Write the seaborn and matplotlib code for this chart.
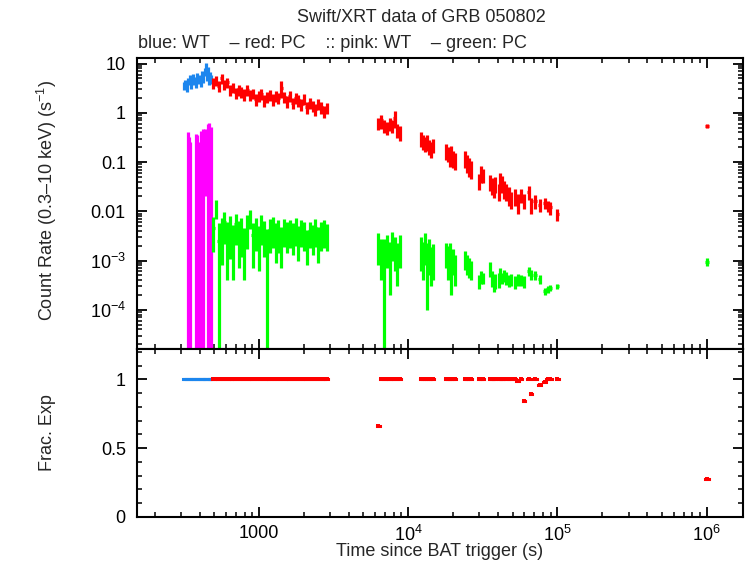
import numpy as np
import matplotlib
matplotlib.use("Agg")
import matplotlib.pyplot as plt
import matplotlib.ticker as mticker
import seaborn as sns

# --- WT mode bins (blue = source, pink = background) ---
wt_t = [312, 320, 328, 336, 344, 352, 360, 368, 376, 384, 392,
        400, 408, 416, 424, 432, 440, 448, 456, 464, 472, 479]
wt_dt = [4.5, 4.5, 4.5, 4.5, 4.5, 4.5, 4.5, 4.5, 4.5, 4.5, 4.5,
         4.5, 4.5, 4.5, 4.5, 4.5, 4.5, 4.5, 4.5, 4.5, 4.5, 4.5]
wt_rate = [3.6, 4.0, 3.3, 4.4, 4.9, 3.8, 5.2, 4.5, 3.9, 5.5, 4.7,
           5.0, 4.2, 6.0, 5.1, 6.8, 8.2, 5.6, 7.0, 4.6, 5.8, 4.9]
wt_err = [0.7, 0.7, 0.6, 0.8, 0.9, 0.7, 1.0, 0.9, 0.7, 1.0, 0.9,
          1.0, 0.8, 1.1, 1.0, 1.3, 2.2, 1.1, 1.4, 0.9, 1.1, 1.0]
wt_frac = [1, 1, 1, 1, 1, 1, 1, 1, 1, 1, 1,
           1, 1, 1, 1, 1, 1, 1, 1, 1, 1, 1]

pink_t = [332, 338, 345, 376, 384, 399, 408, 424, 434, 452, 462, 474]
pink_dt = [3, 3, 3, 4, 4, 4, 4, 4, 4, 4, 4, 4]
pink_rate = [0.20, 0.15, 0.12, 0.18, 0.16, 0.12, 0.20, 0.22, 0.25, 0.28, 0.32, 0.26]
pink_err = [0.21, 0.18, 0.14, 0.20, 0.19, 0.13, 0.22, 0.24, 0.23, 0.30, 0.30, 0.26]

# --- PC mode bins (red = source, green = background) ---
pc_t = [492, 514, 537, 561, 586, 612, 640, 668, 698, 730,
        762, 796, 832, 870, 909, 949, 992, 1037, 1083, 1132,
        1183, 1236, 1291, 1349, 1410, 1473, 1539, 1608, 1680, 1756,
        1835, 1917, 2003, 2093, 2187, 2286, 2388, 2495, 2607, 2724, 2846,
        6300, 6600, 6900, 7200, 7500, 7800, 8100, 8450, 8800,
        12100, 12500, 12900, 13300, 13700, 14100, 14600,
        17900, 18400, 18900, 19400, 19900, 20500,
        24000, 24800, 25600, 26300,
        29800, 30700, 31600,
        35300, 36300, 37300, 38300,
        40400, 41500, 42500, 43500,
        45500, 47000, 48500,
        52000, 54000,
        57000, 59500,
        64000, 66500,
        70500,
        76000,
        82000, 86000, 89500,
        100000,
        1000000]
pc_dt = [11, 11, 12, 12, 13, 13, 14, 15, 15, 16,
         16, 17, 18, 19, 20, 20, 21, 22, 23, 24,
         26, 27, 28, 29, 31, 32, 33, 35, 36, 38,
         40, 41, 43, 45, 47, 50, 51, 54, 56, 58, 61,
         150, 150, 150, 150, 150, 150, 150, 150, 150,
         200, 200, 200, 200, 200, 200, 200,
         250, 250, 250, 250, 250, 250,
         350, 350, 350, 350,
         450, 450, 450,
         500, 500, 500, 500,
         500, 500, 500, 500,
         700, 700, 700,
         900, 900,
         1200, 1200,
         1200, 1200,
         2000,
         2000,
         1800, 1800, 1800,
         2500,
         30000]
pc_rate = [4.0, 4.6, 3.5, 5.0, 3.8, 4.2, 2.9, 3.3, 2.6, 3.0,
           2.7, 2.4, 2.9, 2.3, 2.5, 1.9, 2.2, 2.4, 1.8, 2.1,
           2.3, 1.9, 2.2, 2.0, 3.2, 2.1, 1.7, 2.2, 1.6, 2.0,
           1.8, 1.5, 1.9, 1.3, 1.6, 1.4, 1.2, 1.5, 1.3, 1.1, 1.25,
           0.62, 0.70, 0.55, 0.50, 0.60, 0.55, 0.80, 0.45, 0.40,
           0.30, 0.27, 0.24, 0.26, 0.21, 0.19, 0.22,
           0.17, 0.15, 0.13, 0.16, 0.12, 0.11,
           0.12, 0.10, 0.085, 0.075,
           0.042, 0.060, 0.055,
           0.040, 0.034, 0.030, 0.037,
           0.026, 0.044, 0.038, 0.030,
           0.026, 0.022, 0.018,
           0.021, 0.016,
           0.022, 0.017,
           0.025, 0.014,
           0.016,
           0.0135,
           0.015, 0.013, 0.012,
           0.0088,
           0.55]
pc_err = [1.0, 1.1, 0.9, 1.2, 0.95, 1.0, 0.75, 0.8, 0.65, 0.75,
          0.7, 0.62, 0.75, 0.58, 0.62, 0.5, 0.56, 0.6, 0.48, 0.52,
          0.56, 0.5, 0.54, 0.5, 1.2, 0.52, 0.45, 0.54, 0.42, 0.5,
          0.46, 0.4, 0.47, 0.35, 0.41, 0.37, 0.33, 0.38, 0.34, 0.3, 0.32,
          0.18, 0.22, 0.16, 0.15, 0.17, 0.16, 0.3, 0.14, 0.13,
          0.1, 0.09, 0.08, 0.09, 0.07, 0.07, 0.07,
          0.06, 0.05, 0.05, 0.055, 0.045, 0.04,
          0.045, 0.04, 0.035, 0.03,
          0.015, 0.022, 0.018,
          0.014, 0.013, 0.011, 0.013,
          0.01, 0.016, 0.014, 0.012,
          0.01, 0.009, 0.007,
          0.008, 0.007,
          0.007, 0.006,
          0.008, 0.005,
          0.005,
          0.004,
          0.004, 0.0035, 0.0035,
          0.0025,
          0.05]
pc_frac = [1, 1, 1, 1, 1, 1, 1, 1, 1, 1,
           1, 1, 1, 1, 1, 1, 1, 1, 1, 1,
           1, 1, 1, 1, 1, 1, 1, 1, 1, 1,
           1, 1, 1, 1, 1, 1, 1, 1, 1, 1, 1,
           0.66, 1, 1, 1, 1, 1, 1, 1, 1,
           1, 1, 1, 1, 1, 1, 1,
           1, 1, 1, 1, 1, 1,
           1, 1, 1, 1,
           1, 1, 1,
           1, 1, 1, 1,
           1, 1, 1, 1,
           1, 1, 1,
           1, 0.985,
           1, 0.84,
           1, 0.89,
           1,
           0.956,
           0.98, 1, 1,
           1,
           0.277]
bg_rate = [0.0045, 0.012, 0.0025, 0.004, 0.006, 0.0032, 0.0045, 0.0028, 0.0055, 0.0035,
           0.0042, 0.0025, 0.005, 0.0075, 0.0033, 0.0045, 0.0028, 0.0052, 0.0038, 0.0018,
           0.0042, 0.0048, 0.0033, 0.004, 0.0028, 0.0045, 0.0038, 0.0042, 0.0035, 0.0046,
           0.003, 0.0043, 0.0038, 0.0025, 0.004, 0.0033, 0.0045, 0.0028, 0.0038, 0.0042, 0.0035,
           0.0022, 0.0016, 0.0012, 0.0020, 0.0013, 0.0024, 0.0018, 0.0013, 0.0020,
           0.0018, 0.0014, 0.0022, 0.0012, 0.0016, 0.0011, 0.0013,
           0.0015, 0.0012, 0.0016, 0.0009, 0.0011, 0.0008,
           0.0011, 0.0009, 0.0008, 0.0007,
           0.00038, 0.00048, 0.00045,
           0.0007, 0.00045, 0.00035, 0.0004,
           0.00042, 0.00055, 0.00045, 0.0005,
           0.00045, 0.0004, 0.00042,
           0.00038, 0.00042,
           0.0004, 0.00038,
           0.00062, 0.00052,
           0.0005,
           0.00042,
           0.00024, 0.00026, 0.00028,
           0.0003,
           0.00095]
bg_err = [0.003, 0.005, 0.0032, 0.0032, 0.0038, 0.0028, 0.0034, 0.0024, 0.0034, 0.0028,
          0.003, 0.0021, 0.0033, 0.0032, 0.0026, 0.0029, 0.0022, 0.0031, 0.0026, 0.0025,
          0.0028, 0.003, 0.0024, 0.0026, 0.0021, 0.0026, 0.0024, 0.0024, 0.0022, 0.0026,
          0.002, 0.0024, 0.0022, 0.0017, 0.0022, 0.002, 0.0026, 0.0019, 0.0022, 0.0024, 0.0019,
          0.0014, 0.0012, 0.0015, 0.0013, 0.0011, 0.0014, 0.0012, 0.001, 0.0013,
          0.0012, 0.001, 0.0014, 0.0011, 0.0011, 0.0008, 0.0009,
          0.0008, 0.0008, 0.0007, 0.0007, 0.0006, 0.0005,
          0.00045, 0.0004, 0.00035, 0.0003,
          0.00012, 0.00014, 0.00012,
          0.00024, 0.00016, 0.00012, 0.00014,
          0.00014, 0.00017, 0.00012, 0.00014,
          0.00013, 0.00011, 0.00011,
          0.00011, 0.00011,
          0.0001, 0.0001,
          0.00013, 0.00011,
          0.0001,
          0.00008,
          0.00004, 0.00004, 0.00004,
          0.00004,
          0.00017]

BLUE = "#1c86ee"
RED = "#ff0000"
PINK = "#ff00ff"
GREEN = "#00ff00"

sns.set_theme(style="ticks")
plt.rcParams["font.family"] = ["Liberation Sans", "DejaVu Sans"]
plt.rcParams["mathtext.fontset"] = "custom"
plt.rcParams["mathtext.rm"] = "Liberation Sans"
plt.rcParams["mathtext.it"] = "Liberation Sans:italic"
plt.rcParams["mathtext.bf"] = "Liberation Sans:bold"
FS = 13


def bars(ax, t, dt, y, err, color, lw=2.3):
    y = np.asarray(y, float)
    err = np.asarray(err, float)
    # bars whose lower end is <= 0 run to the bottom of the log axis
    lo = np.where(y - err > 0, err, y - 1e-8)
    ax.errorbar(t, y, xerr=dt, yerr=[lo, err], fmt="none",
                ecolor=color, elinewidth=lw, capsize=0)


def frac_marks(ax, t, dt, f, color):
    t = np.asarray(t, float)
    dt = np.asarray(dt, float)
    ax.hlines(f, t - dt, t + dt, colors=color, linewidth=2.2, capstyle="projecting")


fig = plt.figure(figsize=(7.46, 5.68), dpi=100)
ax1 = fig.add_axes([0.1836, 0.3856, 0.8123, 0.5123])
ax2 = fig.add_axes([0.1836, 0.0898, 0.8123, 0.2958], sharex=ax1)

bars(ax1, wt_t, wt_dt, wt_rate, wt_err, BLUE)
bars(ax1, pc_t, pc_dt, pc_rate, pc_err, RED)
bars(ax1, pink_t, pink_dt, pink_rate, pink_err, PINK)
bars(ax1, pc_t, pc_dt, bg_rate, bg_err, GREEN)

ax1.set_xscale("log")
ax1.set_yscale("log")
ax1.set_xlim(152, 1.75e6)
ax1.set_ylim(1.6e-5, 13)
ax1.set_yticks([1e-4, 1e-3, 1e-2, 1e-1, 1, 10])
ax1.set_yticklabels(["$10^{-4}$", "$10^{-3}$", "0.01", "0.1", "1", "10"])
ax1.yaxis.set_minor_locator(mticker.LogLocator(base=10, subs=np.arange(2, 10), numticks=20))
ax1.yaxis.set_minor_formatter(mticker.NullFormatter())

# fractional exposure panel
frac_marks(ax2, wt_t, wt_dt, wt_frac, BLUE)
frac_marks(ax2, pc_t, pc_dt, pc_frac, RED)
sns.scatterplot(x=pc_t, y=pc_frac, ax=ax2, color=RED, marker="s", s=7, linewidth=0)
ax2.set_ylim(0, 1.22)
ax2.set_yticks([0, 0.5, 1])
ax2.set_yticklabels(["0", "0.5", "1"])
ax2.yaxis.set_minor_locator(mticker.MultipleLocator(0.1))

ax2.set_xticks([1e3, 1e4, 1e5, 1e6])
ax2.set_xticklabels(["1000", "$10^4$", "$10^5$", "$10^6$"])
ax2.xaxis.set_minor_locator(mticker.LogLocator(base=10, subs=np.arange(2, 10), numticks=20))
ax2.xaxis.set_minor_formatter(mticker.NullFormatter())
ax1.tick_params(axis="x", which="both", labelbottom=False)

for ax in (ax1, ax2):
    ax.set_xlabel("")
    ax.set_ylabel("")
    for s in ax.spines.values():
        s.set_linewidth(1.5)
        s.set_color("black")
    ax.tick_params(which="both", direction="in", top=True, right=True,
                   colors="black", labelsize=FS)
    ax.tick_params(which="major", length=7, width=1.3)
    ax.tick_params(which="minor", length=3.5, width=1.1)
    ax.tick_params(axis="y", pad=8)
    ax.tick_params(axis="x", pad=6)

fig.text(421 / 746, 1 - 18 / 568, "Swift/XRT data of GRB 050802",
         ha="center", va="center", fontsize=FS)
fig.text(138 / 746, 1 - 44 / 568,
         "blue: WT    \u2013 red: PC    :: pink: WT    \u2013 green: PC",
         ha="left", va="center", fontsize=FS)
fig.text(47 / 746, 1 - 200 / 568, "Count Rate (0.3\u201310 keV) (s$^{-1}$)",
         rotation=90, ha="center", va="center", fontsize=FS)
fig.text(47 / 746, 1 - 433 / 568, "Frac. Exp",
         rotation=90, ha="center", va="center", fontsize=FS)
fig.text(440 / 746, 1 - 552 / 568, "Time since BAT trigger (s)",
         ha="center", va="center", fontsize=FS)

fig.savefig("out.png", dpi=100)
